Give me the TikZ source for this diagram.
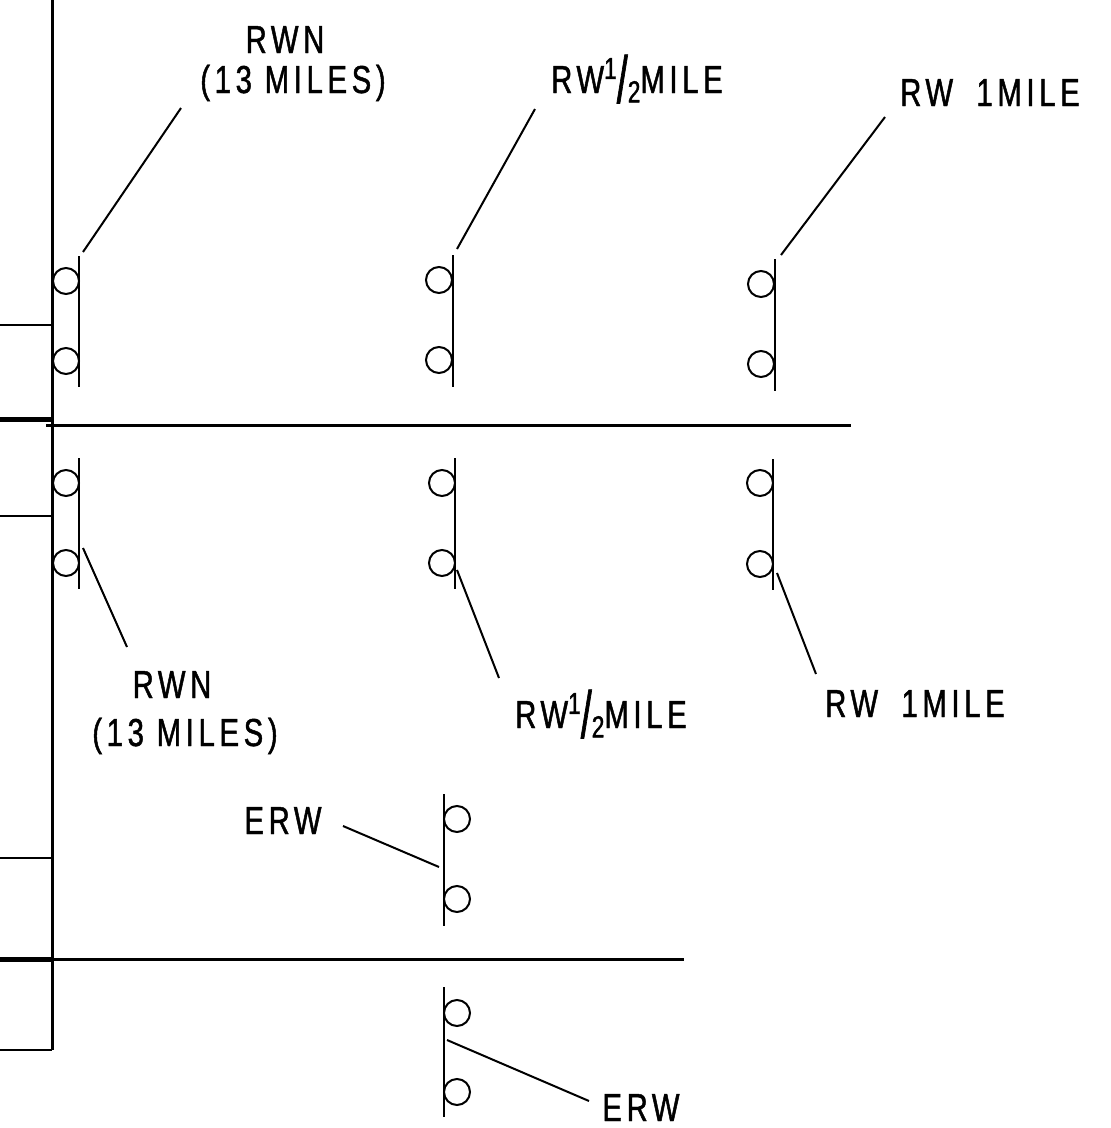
\documentclass[tikz,border=0pt]{standalone}
\usepackage{fontspec}
\usepackage{graphicx}
\setmainfont{Liberation Sans}[FakeStretch=0.75,LetterSpace=12,FakeBold=1.2]
\newcommand\swgroup[7]{%
  \coordinate (#1t) at (#2,#3);
  \coordinate (#1b) at (#2,#4);
  \draw[wire] (#1t) -- (#1b);
  \node[contact] (#1c1) at (#5,#6) {};
  \node[contact] (#1c2) at (#5,#7) {};
}
\newcommand\halfmile{RW\raisebox{0.36em}{\scalebox{0.78}{1}}\raisebox{-0.25em}{\scalebox{1.35}[1.7]{/}}\raisebox{-0.24em}{\scalebox{0.78}{2}}MILE}
\newcommand\onemile{RW\kern0.6em 1MILE}
\begin{document}
\begin{tikzpicture}[x=1pt,y=-1pt,
  lbl/.style={font=\fontsize{39}{44}\selectfont, inner sep=0pt, anchor=base},
  bus/.style={line width=3pt},
  heavy/.style={line width=5pt},
  stub/.style={line width=2.5pt},
  wire/.style={line width=2pt},
  contact/.style={circle, draw, line width=2pt, minimum size=26pt, inner sep=0pt}]
\useasboundingbox[fill=white] (0,0) rectangle (1111,1128);

% main bus and stubs
\coordinate (busT) at (52,0);
\coordinate (busB) at (52,1050);
\draw[bus] (busT) -- (busB);
\coordinate (s1a) at (0,325);  \coordinate (s1b) at (52,325);
\coordinate (s2a) at (0,516);  \coordinate (s2b) at (52,516);
\coordinate (s3a) at (0,858);  \coordinate (s3b) at (52,858);
\coordinate (s4a) at (0,1050); \coordinate (s4b) at (52,1050);
\draw[stub] (s1a) -- (s1b);
\draw[stub] (s2a) -- (s2b);
\draw[stub] (s3a) -- (s3b);
\draw[stub] (s4a) -- (s4b);
\coordinate (h1a) at (0,419); \coordinate (h1b) at (52,419);
\coordinate (h2a) at (0,959); \coordinate (h2b) at (52,959);
\draw[heavy] (h1a) -- (h1b);
\draw[heavy] (h2a) -- (h2b);
\coordinate (r1a) at (46,425); \coordinate (r1b) at (851,425);
\coordinate (r2a) at (52,959); \coordinate (r2b) at (684,959);
\draw[bus] (r1a) -- (r1b);
\draw[bus] (r2a) -- (r2b);

% switches
\swgroup{S1}{79}{256}{387}{66}{281}{361}
\swgroup{S2}{453}{255}{387}{439}{280}{360}
\swgroup{S3}{775}{259}{391}{761}{284}{364}
\swgroup{S4}{79}{458}{589}{66}{483}{563}
\swgroup{S5}{455}{458}{589}{442}{483}{563}
\swgroup{S6}{773}{459}{590}{760}{483}{564}
\swgroup{S7}{444}{794}{926}{457}{819}{899}
\swgroup{S8}{444}{987}{1117}{457}{1013}{1092}

% labels
\node[lbl] (T1a) at (285,53) {RWN};
\node[lbl] (T1b) at (293,93) {(13 MILES)};
\node[lbl] (T2) at (637,93) {\halfmile};
\node[lbl] (T3) at (990,106) {\onemile};
\node[lbl] (B1a) at (172,698) {RWN};
\node[lbl] (B1b) at (185,746) {(13 MILES)};
\node[lbl] (B2) at (601,728) {\halfmile};
\node[lbl] (B3) at (915,717) {\onemile};
\node[lbl] (E1) at (283,834) {ERW};
\node[lbl] (E2) at (641,1121) {ERW};

% leaders
\coordinate (L1a) at (83,252);   \coordinate (L1b) at (181,108);
\coordinate (L2a) at (457,249);  \coordinate (L2b) at (535,109);
\coordinate (L3a) at (781,255);  \coordinate (L3b) at (885,117);
\coordinate (L4a) at (83,548);   \coordinate (L4b) at (127,647);
\coordinate (L5a) at (457,570);  \coordinate (L5b) at (499,678);
\coordinate (L6a) at (777,573);  \coordinate (L6b) at (816,674);
\coordinate (L7a) at (439,867);  \coordinate (L7b) at (343,826);
\coordinate (L8a) at (447,1040); \coordinate (L8b) at (589,1101);
\foreach \i in {1,...,8} {\draw[wire] (L\i a) -- (L\i b);}
\end{tikzpicture}
\end{document}
